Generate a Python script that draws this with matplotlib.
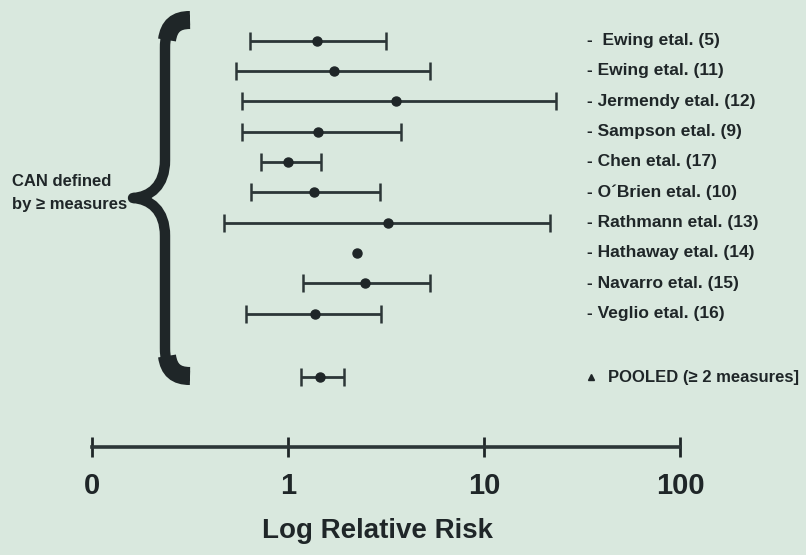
import matplotlib
matplotlib.use("Agg")
import matplotlib.pyplot as plt
import matplotlib.transforms as mtransforms
from matplotlib.path import Path
from matplotlib.patches import PathPatch
import numpy as np

BG = "#d9e8de"
INK = "#1f2628"
LINE = "#2c3637"
FONT = ["Liberation Sans Narrow", "Liberation Sans", "DejaVu Sans"]

studies = ["-  Ewing etal. (5)", "- Ewing etal. (11)", "- Jermendy etal. (12)",
           "- Sampson etal. (9)", "- Chen etal. (17)", "- O\u00b4Brien etal. (10)",
           "- Rathmann etal. (13)", "- Hathaway etal. (14)", "- Navarro etal. (15)",
           "- Veglio etal. (16)"]
rr = [1.41, 1.71, 3.54, 1.43, 1.00, 1.35, 3.22, 2.26, 2.48, 1.38]
ci_lo = [0.64, 0.54, 0.58, 0.58, 0.73, 0.65, 0.47, np.nan, 1.19, 0.61]
ci_hi = [3.18, 5.33, 23.2, 3.79, 1.47, 2.93, 21.6, np.nan, 5.33, 2.97]

pooled_rr, pooled_lo, pooled_hi = 1.45, 1.17, 1.92
pooled_label = "POOLED (\u2265 2 measures]"

ticks = [0.1, 1, 10, 100]
tick_labels = ["0", "1", "10", "100"]

plt.rcParams.update({"font.family": FONT, "font.weight": "bold"})

W, H = 806, 555
fig = plt.figure(figsize=(W / 100, H / 100), dpi=100, facecolor=BG)
ax = fig.add_axes([92 / W, (H - 447) / H, 588 / W, 447 / H])
ax.set_facecolor(BG)

ax.set_xscale("log")
ax.set_xlim(0.1, 100)
ax.set_ylim(13.4, -1.34)

rows = np.arange(len(studies))
rr_a = np.array(rr)
lo_a = np.array(ci_lo)
hi_a = np.array(ci_hi)
has_ci = ~np.isnan(lo_a)
ax.errorbar(rr_a[has_ci], rows[has_ci],
            xerr=[rr_a[has_ci] - lo_a[has_ci], hi_a[has_ci] - rr_a[has_ci]],
            fmt="o", color=LINE, mfc=INK, mec=INK, ms=6.5, elinewidth=2,
            capsize=6.5, capthick=1.8, clip_on=False)
ax.plot(rr_a[~has_ci], rows[~has_ci], "o", color=INK, ms=6.5, clip_on=False)

pooled_y = len(studies) + 1.1
ax.errorbar([pooled_rr], [pooled_y],
            xerr=[[pooled_rr - pooled_lo], [pooled_hi - pooled_rr]],
            fmt="o", color=LINE, mfc=INK, mec=INK, ms=6.5, elinewidth=2,
            capsize=6.5, capthick=1.8, clip_on=False)

# study labels on the right
trans = mtransforms.blended_transform_factory(ax.transAxes, ax.transData)
for y, s in zip(rows, studies):
    ax.text(0.842, y, s, transform=trans, ha="left", va="center",
            fontsize=12.5, color=INK, clip_on=False)
ax.plot([0.848], [pooled_y], marker="^", ms=5, color=INK, transform=trans,
        clip_on=False)
ax.text(0.877, pooled_y, pooled_label, transform=trans, ha="left", va="center",
        fontsize=12, color=INK, clip_on=False)

# axis styling
for side in ["top", "right", "left"]:
    ax.spines[side].set_visible(False)
ax.spines["bottom"].set_linewidth(2.6)
ax.spines["bottom"].set_color(LINE)
ax.set_yticks([])
ax.xaxis.set_minor_locator(matplotlib.ticker.NullLocator())
ax.set_xticks(ticks)
ax.set_xticklabels(tick_labels)
ax.tick_params(axis="x", direction="inout", length=14, width=2, color=INK,
               labelsize=21, labelcolor=INK, pad=11)

fig.text(377 / W, 1 - 531 / H, "Log Relative Risk", ha="center", va="center",
         fontsize=20, color=INK)

# group label and brace
fig.text(12 / W, 1 - 193 / H, "CAN defined\nby \u2265 measures", ha="left",
         va="center", fontsize=12, color=INK, linespacing=1.6)


def px(x, y):
    return (x / W, 1 - y / H)


verts = [px(190, 20), px(172, 20), px(165, 28), px(165, 48),
         px(165, 160),
         px(165, 186), px(150, 197), px(133, 198),
         px(150, 199), px(165, 210), px(165, 236),
         px(165, 348),
         px(165, 368), px(172, 376), px(190, 376)]
codes = [Path.MOVETO, Path.CURVE4, Path.CURVE4, Path.CURVE4,
         Path.LINETO,
         Path.CURVE4, Path.CURVE4, Path.CURVE4,
         Path.CURVE4, Path.CURVE4, Path.CURVE4,
         Path.LINETO,
         Path.CURVE4, Path.CURVE4, Path.CURVE4]
brace = PathPatch(Path(verts, codes), transform=fig.transFigure, fill=False,
                  lw=7.5, ec=INK, capstyle="butt", joinstyle="round")
fig.patches.append(brace)

# heavier ends of the brace
for seg in ([px(190, 20), px(176, 20), px(169, 26), px(167, 40)],
            [px(190, 376), px(176, 376), px(169, 370), px(167, 356)]):
    end = PathPatch(Path(seg, [Path.MOVETO, Path.CURVE4, Path.CURVE4, Path.CURVE4]),
                    transform=fig.transFigure, fill=False, lw=13, ec=INK,
                    capstyle="butt")
    fig.patches.append(end)

fig.savefig("out.png", dpi=100, facecolor=BG)
